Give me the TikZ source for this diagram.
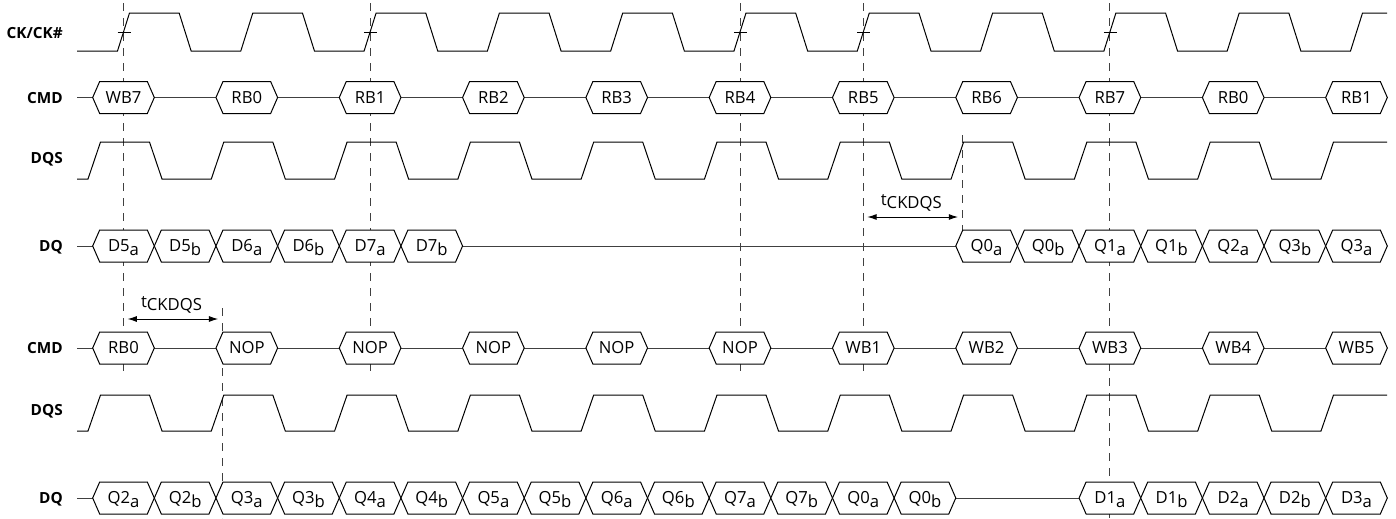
\documentclass[tikz,border=0pt]{standalone}
\usepackage{fontspec}
\setmainfont{Open Sans}
\usetikzlibrary{arrows.meta}
\newcommand\lowr[1]{\raisebox{-2.7pt}{#1}}
\def\T{123.3}
\def\cz{123.5}
\def\hw{30.825}
\def\hh{16}
\def\tp{7}
\newcommand\busbox[4]{%
  \draw[boxline] ({#2-\hw},{#3}) -- ({#2-\hw+\tp},{#3-\hh}) -- ({#2+\hw-\tp},{#3-\hh}) -- ({#2+\hw},{#3}) -- ({#2+\hw-\tp},{#3+\hh}) -- ({#2-\hw+\tp},{#3+\hh}) -- cycle;
  \node[btext] (#1) at ({#2},{#3+5.9}) {#4};}
\begin{document}
\begin{tikzpicture}[x=0.75pt,y=-0.75pt,
  wave/.style={line width=0.75pt,black,line join=miter},
  busl/.style={line width=0.75pt,black!75},
  boxline/.style={line width=0.75pt,black,fill=white},
  btext/.style={anchor=base,inner sep=0pt,font=\fontsize{12.5}{14}\selectfont},
  lbl/.style={anchor=base east,inner sep=0pt,font=\fontsize{11.5}{13}\selectfont\bfseries},
  vdash/.style={line width=0.7pt,black!75,dash pattern=on 6pt off 5.25pt},
  dim/.style={line width=0.75pt,black,{Latex[length=7pt,width=4.5pt]}-{Latex[length=7pt,width=4.5pt]}}]
\fill[white] (0,0) rectangle (1396,518);
\useasboundingbox (0,0) rectangle (1396,518);

% labels
\node[lbl] (lck) at (63,38.5) {CK/CK\#};
\node[lbl] (lcmd1) at (63,103) {CMD};
\node[lbl] (ldqs1) at (63,163) {DQS};
\node[lbl] (ldq1) at (63,251.5) {DQ};
\node[lbl] (lcmd2) at (63,353.5) {CMD};
\node[lbl] (ldqs2) at (63,415.5) {DQS};
\node[lbl] (ldq2) at (63,503.5) {DQ};

% dashed reference lines
\foreach \k in {0,2,5,6} {
  \coordinate (dt\k) at ({\cz+\k*\T+0.2},3);
  \coordinate (db\k) at ({\cz+\k*\T+0.2},373);
  \draw[vdash] (dt\k) -- (db\k);
}
\coordinate (dt8) at ({\cz+8*\T},3);
\coordinate (db8) at ({\cz+8*\T},518);
\draw[vdash] (dt8) -- (db8);
\coordinate (et1) at ({\cz+7*\T-24.5},135);
\coordinate (eb1) at ({\cz+7*\T-24.5},231);
\draw[vdash] (et1) -- (eb1);
\coordinate (et2) at ({\cz+1*\T-24.5},308);
\coordinate (eb2) at ({\cz+1*\T-24.5},518);
\draw[vdash] (et2) -- (eb2);

% CK
\draw[wave] (77,51)
  foreach \k in {0,...,9} { -- ({\cz+\k*\T-6},51) -- ({\cz+\k*\T+6},13) -- ({\cz+\k*\T+\T/2-6},13) -- ({\cz+\k*\T+\T/2+6},51) }
  -- ({\cz+10*\T-6},51) -- ({\cz+10*\T+6},13) -- (1387,13);
\foreach \k in {0,2,5,6,8} \draw[wave] ({\cz+\k*\T-6},32) -- ({\cz+\k*\T+7},32);

% DQS rows
\foreach \hi/\lo in {142/179,395/431} {
\draw[wave] (77,\lo)
  foreach \k in {0,...,9} { -- ({\cz+\k*\T-35.5},\lo) -- ({\cz+\k*\T-23},\hi) -- ({\cz+\k*\T+26},\hi) -- ({\cz+\k*\T+38.5},\lo) }
  -- ({\cz+10*\T-35.5},\lo) -- ({\cz+10*\T-23},\hi) -- (1387,\hi);
}

% CMD row 1
\draw[busl] (77,97.5) -- ({\cz+10*\T},97.5);
\foreach \k/\lab in {0/WB7,1/RB0,2/RB1,3/RB2,4/RB3,5/RB4,6/RB5,7/RB6,8/RB7,9/RB0,10/RB1}
  \busbox{ca\k}{\cz+\k*\T}{97.5}{\lab};

% DQ row 1
\draw[busl] (77,246) -- ({\cz+7*\T},246);
\foreach \k/\n/\s in {0/5/a,1/5/b,2/6/a,3/6/b,4/7/a,5/7/b}
  \busbox{da\k}{\cz+\k*\T/2}{246}{D\n\lowr{\s}};
\foreach \k/\n/\s in {14/0/a,15/0/b,16/1/a,17/1/b,18/2/a,19/3/b,20/3/a}
  \busbox{qa\k}{\cz+\k*\T/2}{246}{Q\n\lowr{\s}};

% tCKDQS upper
\coordinate (ua) at ({\cz+6*\T},217);
\coordinate (ub) at ({\cz+7*\T-24.5},217);
\draw[dim,shorten <=3pt,shorten >=3pt] (ua) -- (ub);
\node[btext] (tu) at ({\cz+6*\T+48},205) {t\lowr{CKDQS}};

% tCKDQS lower
\coordinate (la) at ({\cz},319);
\coordinate (lb) at ({\cz+\T-24.5},319);
\draw[dim,shorten <=3pt,shorten >=3pt] (la) -- (lb);
\node[btext] (tl) at ({\cz+48},307) {t\lowr{CKDQS}};

% CMD row 2
\draw[busl] (77,348) -- ({\cz+10*\T},348);
\foreach \k/\lab in {0/RB0,1/NOP,2/NOP,3/NOP,4/NOP,5/NOP,6/WB1,7/WB2,8/WB3,9/WB4,10/WB5}
  \busbox{cb\k}{\cz+\k*\T}{348}{\lab};

% DQ row 2
\draw[busl] (77,498) -- ({\cz+8*\T},498);
\foreach \k/\n/\s in {0/2/a,1/2/b,2/3/a,3/3/b,4/4/a,5/4/b,6/5/a,7/5/b,8/6/a,9/6/b,10/7/a,11/7/b,12/0/a,13/0/b}
  \busbox{qb\k}{\cz+\k*\T/2}{498}{Q\n\lowr{\s}};
\foreach \k/\n/\s in {16/1/a,17/1/b,18/2/a,19/2/b,20/3/a}
  \busbox{db\k}{\cz+\k*\T/2}{498}{D\n\lowr{\s}};
\end{tikzpicture}
\end{document}
